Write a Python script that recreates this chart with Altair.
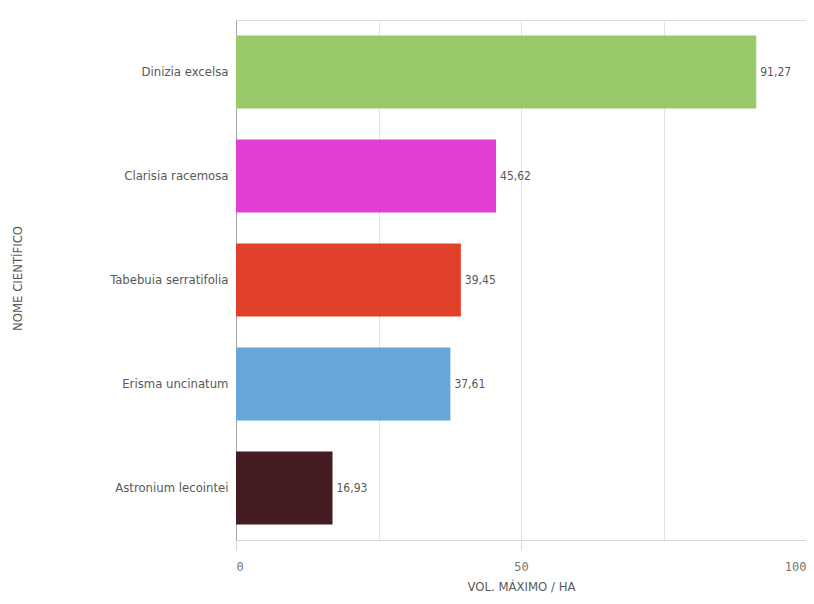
import altair as alt
import pandas as pd

species = ["Dinizia excelsa", "Clarisia racemosa", "Tabebuia serratifolia",
           "Erisma uncinatum", "Astronium lecointei"]
volumes = [91.27, 45.62, 39.45, 37.61, 16.93]
colors = ["#99c968", "#e23fd2", "#e1402a", "#65a7db", "#431b21"]
x_ticks = [0, 25, 50, 75, 100]
title_tail = ["(m³)"]

df = pd.DataFrame({
    "species": species,
    "vol": volumes,
    "label": [f"{v:.2f}".replace(".", ",") for v in volumes],
})

NARROW = "Liberation Sans Narrow, DejaVu Sans Condensed, sans-serif"
MONO = "DejaVu Sans Mono, monospace"

x_enc = alt.X(
    "vol:Q",
    scale=alt.Scale(domain=[0, 100], nice=False),
    axis=alt.Axis(
        values=x_ticks,
        title="VOL. MÁXIMO / HA",
        titleFont=NARROW, titleFontSize=13, titleFontWeight="normal",
        titleColor="#595959", titleY=46, titleBaseline="middle",
        labelFont=MONO, labelFontSize=12, labelColor="#777777",
        labelFlush=True, labelPadding=11,
        labelExpr="datum.value % 50 === 0 ? datum.label : ''",
        grid=True, gridColor="#e3e3e3", gridWidth=1,
        domainColor="#d9d9d9", domainWidth=1,
        tickSize=10, tickColor="#d9d9d9",
        tickOpacity={"condition": {"test": "datum.value % 50 === 0", "value": 1}, "value": 0},
    ),
)

y_enc = alt.Y(
    "species:N",
    sort=species,
    scale=alt.Scale(paddingInner=0.3, paddingOuter=0.15),
    axis=alt.Axis(
        title="NOME CIENTÍFICO",
        titleFont=NARROW, titleFontSize=13, titleFontWeight="normal",
        titleColor="#595959", titleAngle=270, titleX=-219, titleY=258,
        titleAlign="center", titleBaseline="middle",
        labelFont=NARROW, labelFontSize=13, labelColor="#595959",
        labelPadding=8, ticks=False, grid=False,
        domainColor="#a6a6a6", domainWidth=1,
    ),
)

bars = alt.Chart(df).mark_bar().encode(
    x=x_enc,
    y=y_enc,
    color=alt.Color("species:N", scale=alt.Scale(domain=species, range=colors), legend=None),
)

labels = alt.Chart(df).mark_text(
    align="left", baseline="middle", dx=4, font=NARROW, fontSize=12, color="#595959"
).encode(
    x="vol:Q",
    y=alt.Y("species:N", sort=species),
    text="label:N",
)

title_df = pd.DataFrame({"t": title_tail})
title_mark = alt.Chart(title_df).mark_text(
    align="center", baseline="alphabetic", font=NARROW, fontSize=15, color="#404040"
).encode(
    x=alt.value(208),
    y=alt.value(-20),
    text="t:N",
)

chart = alt.layer(bars, labels, title_mark).properties(
    width=570,
    height=520,
    autosize=alt.AutoSizeParams(type="none"),
    padding={"left": 228, "top": 12, "right": 0, "bottom": 56},
).configure_view(stroke=None).configure(background="white")

chart.save("out.html", embed_options={"renderer": "svg", "actions": False})
